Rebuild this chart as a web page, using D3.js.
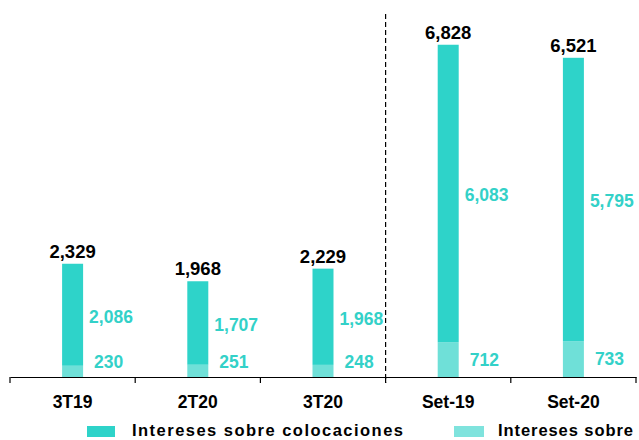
<!DOCTYPE html>
<html>
<head>
<meta charset="utf-8">
<script src="https://cdn.jsdelivr.net/npm/d3@7"></script>
<style>
  html, body { margin: 0; padding: 0; background: #fff; }
  svg { display: block; }
  text { font-family: "Liberation Sans", Arial, sans-serif; font-weight: bold; }
</style>
</head>
<body>
<svg id="chart" width="639" height="440"></svg>
<script>
// Periods on the x axis
const categories = ["3T19", "2T20", "3T20", "Set-19", "Set-20"];
// Interest on loans (dark segment)
const colocaciones = [2086, 1707, 1968, 6083, 5795];
// Interest on other assets (light segment, bottom)
const otros = [230, 251, 248, 712, 733];
// Totals shown above each bar
const totales = [2329, 1968, 2229, 6828, 6521];

const legendLabels = ["Intereses sobre colocaciones", "Intereses sobre"];

const DARK = "#2ed3c9";
const LIGHT = "#6fe0d8";
const LABEL = "#33d1c8";

const svg = d3.select("#chart");
const axisY = 377;

const x = d3.scaleBand()
  .domain(categories)
  .range([10, 636])
  .paddingInner(0)
  .paddingOuter(0);

const y = d3.scaleLinear()
  .domain([0, 7710])
  .range([axisY, 0]);

const barW = 21;

const rows = categories.map((c, i) => ({
  cat: c, dark: colocaciones[i], light: otros[i], total: totales[i]
}));

const stack = d3.stack().keys(["light", "dark"]);
const series = stack(rows);
const colors = { light: LIGHT, dark: DARK };

// stacked bars
svg.append("g").selectAll("g")
  .data(series)
  .join("g")
  .attr("fill", s => colors[s.key])
  .selectAll("rect")
  .data(s => s)
  .join("rect")
  .attr("x", d => x(d.data.cat) + x.bandwidth() / 2 - barW / 2)
  .attr("width", barW)
  .attr("y", d => y(d[1]))
  .attr("height", d => y(d[0]) - y(d[1]));

// x axis
const axis = d3.axisBottom(x).tickSize(0).tickPadding(0).tickFormat("");
const gAxis = svg.append("g").attr("transform", `translate(0,${axisY})`).call(axis);
gAxis.select(".domain").attr("stroke", "#000").attr("stroke-width", 1.2);
// ticks at band edges
const edges = categories.map(c => x(c)).concat([x.range()[1]]);
gAxis.selectAll("line.edge")
  .data(edges)
  .join("line")
  .attr("class", "edge")
  .attr("x1", d => d).attr("x2", d => d)
  .attr("y1", 0).attr("y2", 6)
  .attr("stroke", "#000").attr("stroke-width", 1.2);

// category labels
svg.append("g").selectAll("text")
  .data(categories)
  .join("text")
  .attr("x", d => x(d) + x.bandwidth() / 2)
  .attr("y", 408)
  .attr("text-anchor", "middle")
  .attr("font-size", 17.5)
  .attr("fill", "#000")
  .text(d => d);

// dashed divider between quarterly and year-to-date groups
svg.append("line")
  .attr("x1", x("Set-19")).attr("x2", x("Set-19"))
  .attr("y1", 14).attr("y2", axisY + 6)
  .attr("stroke", "#000")
  .attr("stroke-width", 1.2)
  .attr("stroke-dasharray", "5,3");

const fmt = d3.format(",");

// totals
svg.append("g").selectAll("text")
  .data(rows)
  .join("text")
  .attr("x", d => x(d.cat) + x.bandwidth() / 2)
  .attr("y", d => y(d.light + d.dark) - 6)
  .attr("text-anchor", "middle")
  .attr("font-size", 18.5)
  .attr("fill", "#000")
  .text(d => fmt(d.total));

// dark segment values
svg.append("g").selectAll("text")
  .data(rows)
  .join("text")
  .attr("x", d => x(d.cat) + x.bandwidth() / 2 + barW / 2 + 6)
  .attr("y", d => (y(d.light) + y(d.light + d.dark)) / 2 + 2)
  .attr("dominant-baseline", "central")
  .attr("font-size", 17.5)
  .attr("fill", LABEL)
  .text(d => fmt(d.dark));

// light segment values
svg.append("g").selectAll("text")
  .data(rows)
  .join("text")
  .attr("x", d => x(d.cat) + x.bandwidth() / 2 + barW / 2 + 11)
  .attr("y", d => Math.min((y(0) + y(d.light)) / 2, 362))
  .attr("dominant-baseline", "central")
  .attr("font-size", 17.5)
  .attr("fill", LABEL)
  .text(d => fmt(d.light));

// legend
const legend = svg.append("g");
const legendItems = [
  { label: legendLabels[0], color: DARK, sx: 87, sw: 28, tx: 132, tw: 271 },
  { label: legendLabels[1], color: "#7fe3dd", sx: 454, sw: 30, tx: 498, tw: 135 }
];
legendItems.forEach(it => {
  legend.append("rect")
    .attr("x", it.sx).attr("y", 426)
    .attr("width", it.sw).attr("height", 11)
    .attr("fill", it.color);
  legend.append("text")
    .attr("x", it.tx).attr("y", 436)
    .attr("font-size", 16.5)
    .attr("fill", "#000")
    .attr("textLength", it.tw)
    .attr("lengthAdjust", "spacing")
    .text(it.label);
});
</script>
</body>
</html>
